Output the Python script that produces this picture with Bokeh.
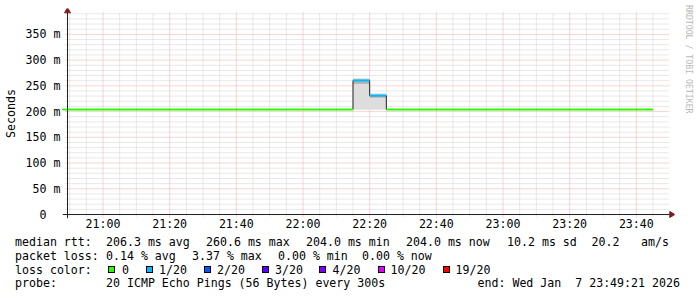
import pandas as pd
from math import pi
from bokeh.plotting import figure
from bokeh.models import (Range1d, FixedTicker, DatetimeTickFormatter, LinearAxis,
                          ColumnDataSource, Div)
from bokeh.layouts import column
from bokeh.embed import file_html
from bokeh.resources import INLINE

# ---------------- data ----------------
end_time = "2026-01-07 23:49:21"
span_hours = 3
first_bin = "2026-01-07 20:45"
last_bin = "2026-01-07 23:40"

median_rtt = [204.0, 204.0, 204.0, 204.0, 204.0, 204.0, 204.0, 204.0, 204.0,
              204.0, 204.0, 204.0, 204.0, 204.0, 204.0, 204.0, 204.0, 204.0,
              260.6, 231.0,
              204.0, 204.0, 204.0, 204.0, 204.0, 204.0, 204.0, 204.0,
              204.0, 204.0, 204.0, 204.0, 204.0, 204.0, 204.0, 204.0]
loss_count = [0, 0, 0, 0, 0, 0, 0, 0, 0, 0, 0, 0, 0, 0, 0, 0, 0, 0,
              1, 1,
              0, 0, 0, 0, 0, 0, 0, 0, 0, 0, 0, 0, 0, 0, 0, 0]
smoke_max = [204.5, 204.5, 204.5, 204.5, 204.5, 204.5, 204.5, 204.5, 204.5,
             204.5, 204.5, 204.5, 204.5, 204.5, 204.5, 204.5, 204.5, 204.5,
             264.5, 235.5,
             204.5, 204.5, 204.5, 204.5, 204.5, 204.5, 204.5, 204.5,
             204.5, 204.5, 204.5, 204.5, 204.5, 204.5, 204.5, 204.5]
smoke_min = [203.5, 203.5, 203.5, 203.5, 203.5, 203.5, 203.5, 203.5, 203.5,
             203.5, 203.5, 203.5, 203.5, 203.5, 203.5, 203.5, 203.5, 203.5,
             203.5, 203.5,
             203.5, 203.5, 203.5, 203.5, 203.5, 203.5, 203.5, 203.5,
             203.5, 203.5, 203.5, 203.5, 203.5, 203.5, 203.5, 203.5]
smoke_band_lo = [204.0, 204.0, 204.0, 204.0, 204.0, 204.0, 204.0, 204.0, 204.0,
                 204.0, 204.0, 204.0, 204.0, 204.0, 204.0, 204.0, 204.0, 204.0,
                 253.5, 227.0,
                 204.0, 204.0, 204.0, 204.0, 204.0, 204.0, 204.0, 204.0,
                 204.0, 204.0, 204.0, 204.0, 204.0, 204.0, 204.0, 204.0]

loss_levels = [0, 1, 2, 3, 4, 10, 19]
loss_labels = ["0", "1/20", "2/20", "3/20", "4/20", "10/20", "19/20"]
loss_colors = ["#26ff00", "#00b8ff", "#0059ff", "#5e00ff", "#7e00ff", "#dd00ff", "#ff0000"]

ytick_values = [0, 50, 100, 150, 200, 250, 300, 350]
ytick_labels = ["0\u00a0\u00a0", "50 m", "100 m", "150 m", "200 m", "250 m", "300 m", "350 m"]
y_minor_step = 10
y_top = 392.5
xtick_labels = ["21:00", "21:20", "21:40", "22:00", "22:20", "22:40", "23:00", "23:20", "23:40"]
x_minor_minutes = 5

rtt_values = [206.3, 260.6, 204.0, 204.0]
rtt_names = ["avg", "max", "min", "now"]
rtt_sd = 10.2
rtt_am_s = 20.2
loss_pct = [0.14, 3.37, 0.00, 0.00]
probe_text = "20 ICMP Echo Pings (56 Bytes) every 300s"
end_text = "end: Wed Jan\u00a0\u00a07 23:49:21 2026"
watermark = "RRDTOOL / TOBI OETIKER"

# ---------------- helpers ----------------
def ms(ts):
    return pd.Timestamp(ts).value / 1e6

t1 = pd.Timestamp(end_time)
t0 = t1 - pd.Timedelta(hours=span_hours)
T0, T1 = ms(t0), ms(t1)
bins = pd.date_range(first_bin, last_bin, freq="5min")
bin_l = [ms(b) for b in bins]
bin_r = [ms(b + pd.Timedelta(minutes=5)) for b in bins]
color_of = dict(zip(loss_levels, loss_colors))
seg_colors = [color_of[c] for c in loss_count]

xmaj = [ms("2026-01-07 " + s) for s in xtick_labels]
xmin = [ms(t) for t in pd.date_range("2026-01-07 20:50", "2026-01-07 23:45",
                                      freq=f"{x_minor_minutes}min")]
xmin = [v for v in xmin if v not in xmaj]
ymin = [v for v in range(0, 400, y_minor_step) if v not in ytick_values]

FONT = "DejaVu Sans Mono"
FS = "11.6px"
W = 697
PLOT_H = 233
GRAPH_W, GRAPH_H = 600, 203           # RRDtool graph area in pixels
px_ms = (T1 - T0) / GRAPH_W           # ms per pixel
px_val = y_top / GRAPH_H              # value per pixel
# frame is a bit larger than the graph area so the axis arrows fit inside it
PAD_L, PAD_R, PAD_T, PAD_B = 5, 7, 4, 4
FL, FT = 62, 8
FR = W - FL - (GRAPH_W + PAD_L + PAD_R)
FB = PLOT_H - FT - (GRAPH_H + PAD_T + PAD_B)

p = figure(width=W, height=PLOT_H,
           x_range=Range1d(T0 - PAD_L * px_ms, T1 + PAD_R * px_ms),
           y_range=Range1d(-PAD_B * px_val, y_top + PAD_T * px_val),
           x_axis_type="datetime", output_backend="svg", toolbar_location=None,
           min_border_left=FL, min_border_right=FR, min_border_top=FT,
           min_border_bottom=FB)
p.outline_line_color = None
p.background_fill_color = "white"
p.border_fill_color = "white"
p.grid.visible = False

p.xaxis.ticker = FixedTicker(ticks=xmaj, minor_ticks=[])
p.yaxis.ticker = FixedTicker(ticks=ytick_values, minor_ticks=[])
fmt = "%H:%M"
p.xaxis.formatter = DatetimeTickFormatter(microseconds=fmt, milliseconds=fmt, seconds=fmt,
                                          minsec=fmt, minutes=fmt, hourmin=fmt, hours=fmt,
                                          days=fmt, months=fmt, years=fmt)
p.yaxis.major_label_overrides = dict(zip(ytick_values, ytick_labels))
for ax in (p.xaxis, p.yaxis):
    ax.axis_line_color = None
    ax.major_tick_line_color = None
    ax.minor_tick_line_color = None
    ax.major_tick_in = 0
    ax.major_tick_out = 0
    ax.minor_tick_in = 0
    ax.minor_tick_out = 0
    ax.major_label_text_font = FONT
    ax.major_label_text_font_size = FS
    ax.major_label_text_color = "black"
p.xaxis.major_label_standoff = -2
p.yaxis.major_label_standoff = 2
p.yaxis.axis_label = "Seconds"
p.yaxis.axis_label_text_font = FONT
p.yaxis.axis_label_text_font_size = FS
p.yaxis.axis_label_text_font_style = "normal"
p.yaxis.axis_label_text_color = "black"
p.yaxis.axis_label_standoff = 5

# watermark on the right side (as an empty right axis label)
wm = LinearAxis(ticker=FixedTicker(ticks=[]), axis_line_color=None,
                major_tick_line_color=None, minor_tick_line_color=None,
                major_tick_out=0, minor_tick_out=0, major_label_standoff=0,
                axis_label=watermark + "\u00a0" * 22,
                axis_label_text_font=FONT, axis_label_text_font_size="8.2px",
                axis_label_text_font_style="normal", axis_label_text_color="#b8b8b8",
                axis_label_standoff=9)
p.add_layout(wm, "right")

# ---- RRDtool style dotted grid (minor grey, major red) ----
GRID = "#d2d2d2"
MGRID = "#f2aaaa"
p.segment(x0=xmin, x1=xmin, y0=[-2 * px_val] * len(xmin), y1=[y_top] * len(xmin),
          line_color=GRID, line_width=1, line_dash="1 1")
p.segment(x0=[T0 - 2 * px_ms] * len(ymin), x1=[T1 + 2 * px_ms] * len(ymin), y0=ymin, y1=ymin,
          line_color=GRID, line_width=1, line_dash="1 1")
p.segment(x0=xmaj, x1=xmaj, y0=[-3 * px_val] * len(xmaj), y1=[y_top] * len(xmaj),
          line_color=MGRID, line_width=1, line_dash="1 1")
ymaj = [v for v in ytick_values if v > 0]
p.segment(x0=[T0 - 2 * px_ms] * len(ymaj), x1=[T1 + 2 * px_ms] * len(ymaj), y0=ymaj, y1=ymaj,
          line_color=MGRID, line_width=1, line_dash="1 1")

# ---- smoke + median line ----
src = ColumnDataSource(dict(l=bin_l, r=bin_r, med=median_rtt, mn=smoke_min, mx=smoke_max,
                            blo=smoke_band_lo, c=seg_colors))
p.quad(left="l", right="r", bottom="mn", top="mx", source=src,
       fill_color="#dddddd", line_color=None)
p.quad(left="l", right="r", bottom="blo", top="med", source=src,
       fill_color="#b4b4b4", line_color=None)
p.step(x=bin_l + [bin_r[-1]], y=median_rtt + [median_rtt[-1]], mode="after",
       line_color="#222222", line_width=1)
p.segment(x0="l", x1="r", y0="med", y1="med", source=src, line_color="c", line_width=2)

# ---- axes with arrow heads ----
AXIS = "#1f1f1f"
ARROW = "#7f1f1f"
p.segment(x0=[T0 - PAD_L * px_ms], x1=[T1 + 2 * px_ms], y0=[0], y1=[0],
          line_color=AXIS, line_width=1)
p.segment(x0=[T0], x1=[T0], y0=[-PAD_B * px_val], y1=[y_top], line_color=AXIS, line_width=1)
p.scatter(x=[T1 + 4 * px_ms], y=[0], marker="triangle", size=6, angle=-pi / 2,
          fill_color=ARROW, line_color=ARROW)
p.scatter(x=[T0], y=[y_top + 1.4 * px_val], marker="triangle", size=6,
          fill_color=ARROW, line_color=ARROW)

# ---------------- legend texts below the graph (HTML) ----------------
line1 = ["median rtt:"] + [f"{v:.1f} ms {n}" for v, n in zip(rtt_values, rtt_names)] + \
        [f"{rtt_sd:.1f} ms sd", f"{rtt_am_s:.1f}", "am/s"]
x1 = [15, 106, 206, 306, 406, 507, 591.5, 641]
line2 = ["packet loss:"] + [f"{v:.2f} % {n}" for v, n in zip(loss_pct, rtt_names)]
x2 = [15, 106, 192, 278, 362]
line3 = ["loss color:"] + loss_labels
x3 = [15, 122, 159, 217, 275, 332.5, 390.5, 455.5]
sw_x = [111.7, 149.3, 207.3, 265, 322.7, 381, 446]
line4 = ["probe:", probe_text, end_text]
x4 = [15, 106, 477.5]

ASC = 11.0  # baseline offset inside a 14px line box
parts = []
for texts, xs, base in [(line1, x1, 246), (line2, x2, 259.8), (line3, x3, 273.5),
                        (line4, x4, 287.3)]:
    for t, X in zip(texts, xs):
        top = base - ASC - PLOT_H
        parts.append(f'<span style="position:absolute;left:{X}px;top:{top:.1f}px;">{t}</span>')
for X, col in zip(sw_x, loss_colors):
    parts.append(f'<div style="position:absolute;display:block;left:{X - 3.5:.1f}px;'
                 f'top:{269 - 3.5 - PLOT_H:.1f}px;width:7px;height:7px;box-sizing:border-box;'
                 f'border:1px solid #000;background-color:{col};"></div>')
html = ('<div style="position:relative;width:697px;height:64px;background:#fff;'
        f"font-family:'{FONT}';font-size:{FS};line-height:14px;color:#000;white-space:pre;\">"
        + "".join(parts) + "</div>")
legend = Div(text=html, width=W, height=297 - PLOT_H, margin=0)

layout = column(p, legend, spacing=0)
open("out.html", "w").write(file_html(layout, INLINE))
